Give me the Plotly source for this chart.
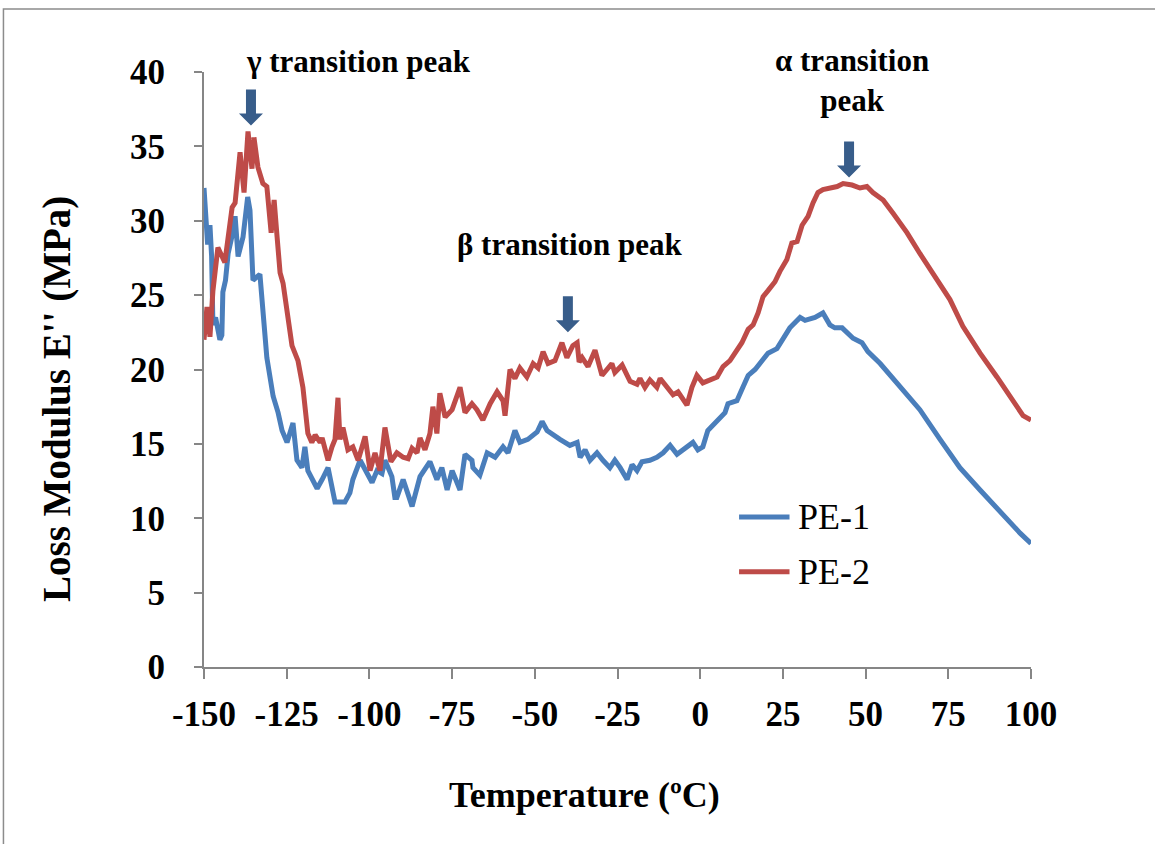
import plotly.graph_objects as go

# Dynamic loss modulus E'' versus temperature for two polyethylene grades
temp_pe1 = [-150, -148.9, -148.2, -147.7, -147.3, -146.5, -145.2, -144.6, -144.3, -143.5,
            -142.7, -141.5, -140.6, -139.7, -138.2, -136.8, -136.1, -135.2, -133.1, -132.2,
            -131.6, -131.0, -129.1, -127.6, -126.4, -124.9, -123.1, -121.9, -120.4, -119.5,
            -118.6, -115.8, -114.3, -112.5, -110.4, -107.4, -105.9, -105.0, -102.8, -99.2,
            -97.7, -96.2, -95.3, -93.2, -92.3, -91.7, -89.8, -87.1, -84.7, -81.7,
            -79.6, -78.1, -76.5, -75.0, -72.6, -71.1, -69.0, -68.7, -66.6, -64.4,
            -62.0, -59.6, -58.1, -56.0, -54.5, -52.1, -49.3, -47.8, -46.3, -44.5,
            -42.4, -39.4, -37.2, -36.3, -34.8, -33.3, -31.2, -29.4, -27.3, -25.8,
            -24.2, -22.1, -20.6, -19.1, -17.6, -15.2, -13.1, -11.2, -9.1, -7.0,
            -5.2, -2.2, -0.7, 0.8, 2.3, 5.1, 7.5, 8.4, 11.1, 12.9,
            14.5, 16.6, 19.0, 20.5, 23.2, 24.7, 27.1, 30.2, 31.7, 34.7,
            37.1, 39.2, 40.7, 42.9, 46.2, 48.9, 50.7, 54.4, 60.4, 66.4,
            72.5, 78.5, 84.6, 90.6, 96.7, 100]
loss_pe1 = [32.2, 28.4, 29.7, 27.6, 23.0, 23.5, 22.0, 22.3, 25.2, 26.0,
            27.8, 29.0, 30.3, 27.6, 28.9, 31.6, 30.7, 26.0, 26.4, 24.0,
            22.5, 20.8, 18.2, 17.1, 15.9, 15.1, 16.4, 13.9, 13.4, 14.8,
            13.2, 12.0, 12.6, 13.4, 11.1, 11.1, 11.7, 12.6, 13.9, 12.4,
            13.2, 13.0, 13.9, 12.8, 11.4, 11.4, 12.6, 10.8, 12.8, 13.8,
            12.6, 13.4, 11.9, 13.2, 11.9, 14.3, 13.9, 13.4, 12.9, 14.4,
            14.1, 14.8, 14.4, 15.9, 15.1, 15.3, 15.8, 16.5, 15.9, 15.6,
            15.3, 14.9, 15.1, 14.1, 14.6, 13.9, 14.4, 13.9, 13.4, 13.9,
            13.4, 12.6, 13.6, 13.2, 13.8, 13.9, 14.1, 14.4, 14.9, 14.3,
            14.6, 15.1, 14.6, 14.8, 15.9, 16.6, 17.1, 17.7, 17.9, 18.8,
            19.6, 20.0, 20.6, 21.1, 21.4, 22.0, 22.8, 23.5, 23.3, 23.5,
            23.8, 23.0, 22.8, 22.8, 22.1, 21.8, 21.2, 20.4, 18.8, 17.3,
            15.3, 13.4, 11.9, 10.4, 9.0, 8.3]

temp_pe2 = [-150, -149.1, -148.2, -147.3, -145.8, -143.7, -141.5, -140.6, -139.1, -137.9,
            -136.7, -135.5, -134.9, -133.7, -132.2, -131.0, -129.7, -128.8, -127.9, -127.0,
            -126.1, -124.6, -123.4, -121.6, -120.1, -118.6, -117.4, -116.4, -114.9, -114.3,
            -112.5, -111.3, -110.4, -109.5, -108.9, -108.0, -106.5, -105.0, -103.4, -101.3,
            -99.8, -98.3, -96.8, -95.3, -93.5, -91.7, -89.8, -88.3, -87.1, -85.6,
            -84.7, -83.2, -82.6, -81.7, -80.8, -79.6, -78.7, -77.1, -75.0, -72.6,
            -71.1, -69.0, -67.5, -65.7, -63.5, -61.4, -59.6, -59.0, -57.5, -56.0,
            -54.5, -52.4, -50.5, -49.0, -47.5, -46.0, -43.9, -41.8, -40.3, -38.5,
            -37.2, -36.6, -35.7, -33.9, -31.8, -29.7, -28.2, -26.7, -25.8, -23.6,
            -21.2, -19.1, -18.2, -16.7, -15.2, -13.1, -12.1, -10.0, -8.2, -6.7,
            -4.0, -2.5, -1.0, 0.8, 2.9, 5.1, 6.9, 9.0, 10.5, 12.6,
            14.5, 16.0, 17.5, 19.0, 20.5, 22.6, 24.1, 26.2, 27.7, 29.3,
            30.8, 32.6, 34.1, 35.6, 37.1, 39.2, 41.4, 43.2, 45.9, 48.3,
            50.4, 52.2, 55.3, 58.3, 62.5, 66.4, 70.4, 75.5, 79.4, 84.6,
            89.7, 94.6, 97.6, 100]
loss_pe2 = [22.0, 24.2, 22.2, 25.3, 28.2, 27.2, 30.9, 31.2, 34.6, 31.9,
            36.0, 33.5, 35.6, 33.6, 32.5, 32.3, 29.2, 31.4, 28.9, 26.5,
            25.8, 23.1, 21.6, 20.6, 18.8, 15.7, 15.1, 15.6, 15.1, 15.4,
            13.9, 14.8, 15.3, 18.1, 15.3, 16.1, 14.6, 14.8, 13.9, 15.5,
            13.2, 14.4, 13.2, 16.1, 13.8, 14.4, 14.1, 14.0, 14.7, 14.4,
            15.4, 14.6, 15.1, 15.7, 17.5, 15.7, 18.4, 16.8, 17.3, 18.8,
            17.1, 17.7, 17.3, 16.6, 17.7, 18.5, 17.9, 16.9, 20.0, 19.4,
            20.1, 19.5, 20.4, 20.1, 21.2, 20.4, 20.6, 21.8, 20.8, 21.6,
            21.8, 20.5, 20.8, 20.2, 21.3, 19.6, 20.0, 20.4, 19.8, 20.3,
            19.2, 19.0, 19.4, 18.8, 19.3, 18.8, 19.4, 18.8, 18.3, 18.5,
            17.6, 18.8, 19.6, 19.1, 19.3, 19.5, 20.2, 20.6, 21.1, 21.8,
            22.7, 23.0, 23.8, 24.9, 25.3, 25.9, 26.6, 27.4, 28.5, 28.6,
            29.7, 30.3, 31.2, 31.9, 32.1, 32.2, 32.3, 32.5, 32.4, 32.2,
            32.3, 31.9, 31.4, 30.5, 29.2, 27.8, 26.5, 24.7, 22.9, 21.1,
            19.5, 17.9, 16.9, 16.6]

x_ticks = [-150, -125, -100, -75, -50, -25, 0, 25, 50, 75, 100]
y_ticks = [0, 5, 10, 15, 20, 25, 30, 35, 40]
Y_MAX = 40

# Transition peaks: label, label position, arrow tip (temperature, E'')
peak_labels = ["γ transition peak", "β transition peak", "α transition<br>peak"]
label_temp = [-103.4, -39.4, 45.9]
label_loss = [40.7, 28.4, 39.4]
arrow_temp = [-135.8, -40.0, 45.0]
arrow_loss = [36.4, 22.5, 32.9]

BLUE = "#4A7EBB"
RED = "#BE4B48"
ARROW = "#385D8A"
GREY = "#868686"
SERIF = "Liberation Serif, Times New Roman, serif"

fig = go.Figure()
fig.add_trace(go.Scatter(x=temp_pe1, y=loss_pe1, mode="lines", name="PE-1",
                         line=dict(color=BLUE, width=5), showlegend=False))
fig.add_trace(go.Scatter(x=temp_pe2, y=loss_pe2, mode="lines", name="PE-2",
                         line=dict(color=RED, width=5), showlegend=False))

# Block arrows drawn in pixel units, anchored at each arrow tip
arrow_path = "M 0 0 L -12 12 L -5 12 L -5 36 L 5 36 L 5 12 L 12 12 Z"
for t, e in zip(arrow_temp, arrow_loss):
    fig.add_shape(type="path", path=arrow_path, xref="x", yref="y",
                  xsizemode="pixel", ysizemode="pixel", xanchor=t, yanchor=e,
                  fillcolor=ARROW, line=dict(width=0))

# Peak labels: vertical position given in E'' and mapped onto the plot height
for text, t, e in zip(peak_labels, label_temp, label_loss):
    fig.add_annotation(x=t, y=e / Y_MAX, xref="x", yref="paper", text=text,
                       showarrow=False, align="center",
                       xanchor="center", yanchor="middle",
                       font=dict(family=SERIF, size=31, color="black", weight="bold"))

# Legend drawn as line samples with labels
legend_entries = [("PE-1", BLUE), ("PE-2", RED)]
legend_y = [0.252, 0.16]
for (label, color), ly in zip(legend_entries, legend_y):
    fig.add_shape(type="line", xref="paper", yref="paper", x0=0.647, x1=0.708,
                  y0=ly, y1=ly, line=dict(color=color, width=5))
    fig.add_annotation(xref="paper", yref="paper", x=0.716, y=ly, text=label,
                       xanchor="left", yanchor="middle", showarrow=False,
                       font=dict(family=SERIF, size=36, color="black"))

# Axis titles
fig.add_annotation(xref="paper", yref="paper", x=0.46, y=-0.215, text="Temperature (ºC)",
                   showarrow=False, xanchor="center", yanchor="middle",
                   font=dict(family=SERIF, size=36, color="black", weight="bold"))
fig.add_annotation(xref="paper", yref="paper", x=-0.178, y=0.45,
                   text="Loss Modulus E'' (MPa)", textangle=-90,
                   showarrow=False, xanchor="center", yanchor="middle",
                   font=dict(family=SERIF, size=39, color="black", weight="bold"))

# Outer chart frame
fig.add_shape(type="rect", xref="paper", yref="paper", x0=-0.2425, x1=1.17,
              y0=-0.33, y1=1.1059, line=dict(color="#8C8C8C", width=1.5),
              fillcolor="rgba(0,0,0,0)", layer="below")

fig.update_layout(
    width=1155, height=844,
    margin=dict(l=204, r=124, t=72, b=177),
    paper_bgcolor="white", plot_bgcolor="white",
    xaxis=dict(range=[-150, 100], tickvals=x_ticks, ticktext=[str(v) for v in x_ticks],
               showgrid=False, zeroline=False, showline=True, linecolor=GREY, linewidth=2,
               ticks="outside", ticklen=10, tickwidth=2, tickcolor=GREY,
               ticklabelstandoff=5,
               tickfont=dict(family=SERIF, size=35, color="black", weight="bold")),
    yaxis=dict(range=[0, Y_MAX], tickvals=y_ticks, ticktext=[str(v) for v in y_ticks],
               showgrid=False, zeroline=False, showline=True, linecolor=GREY, linewidth=2,
               ticks="outside", ticklen=8, tickwidth=2, tickcolor=GREY,
               ticklabelstandoff=22,
               tickfont=dict(family=SERIF, size=35, color="black", weight="bold")),
)

fig.write_html("out.html")
